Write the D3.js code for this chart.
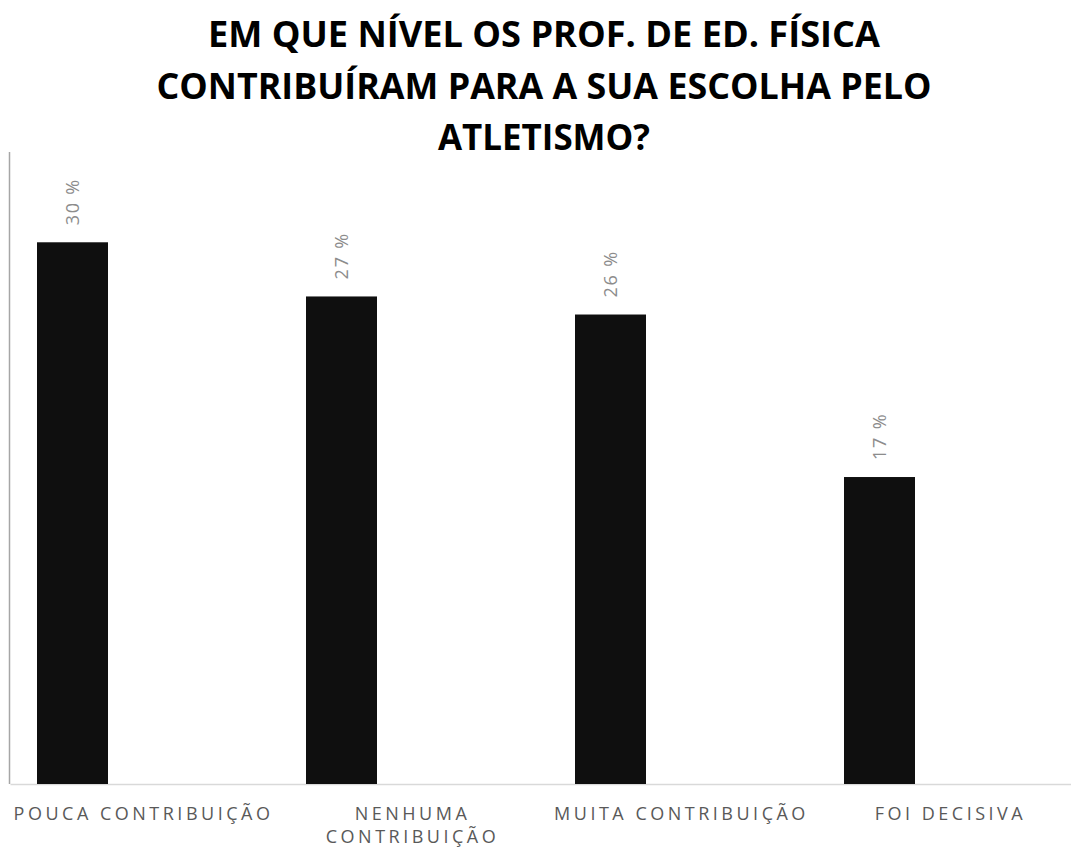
<!DOCTYPE html>
<html>
<head>
<meta charset="utf-8">
<script src="https://cdn.jsdelivr.net/npm/d3@7"></script>
<style>
  html, body { margin: 0; padding: 0; background: #fff; }
  svg { display: block; }
</style>
</head>
<body>
<div id="chart"></div>
<script>
// Chart content
const titleLines = [
  "EM QUE NÍVEL OS PROF. DE ED. FÍSICA",
  "CONTRIBUÍRAM PARA A SUA ESCOLHA PELO",
  "ATLETISMO?"
];
const categories = [
  "POUCA CONTRIBUIÇÃO",
  "NENHUMA CONTRIBUIÇÃO",
  "MUITA CONTRIBUIÇÃO",
  "FOI DECISIVA"
];
// Category labels split across lines where the text wraps
const categoryLines = [
  ["POUCA CONTRIBUIÇÃO"],
  ["NENHUMA", "CONTRIBUIÇÃO"],
  ["MUITA CONTRIBUIÇÃO"],
  ["FOI DECISIVA"]
];
const values = [30, 27, 26, 17];
const valueLabels = ["30 %", "27 %", "26 %", "17 %"];

const W = 1071, H = 847;
const plot = { left: 10, top: 152, bottom: 784, right: 10 + 269 * 4 };

const svg = d3.select("#chart").append("svg")
  .attr("width", W).attr("height", H);

// Title, each line fitted to its set width
const titleWidths = [672, 775, 212];
const title = svg.append("g");
titleLines.forEach((line, i) => {
  title.append("text")
    .attr("x", 544)
    .attr("y", 47 + i * 51.5)
    .attr("text-anchor", "middle")
    .attr("font-family", "'Open Sans', Lato, sans-serif")
    .attr("font-weight", 700)
    .attr("font-size", 35)
    .attr("fill", "#000")
    .attr("textLength", titleWidths[i])
    .attr("lengthAdjust", "spacingAndGlyphs")
    .text(line);
});

// Scales
const x = d3.scaleBand()
  .domain(categories)
  .range([plot.left, plot.right])
  .padding(0);

const y = d3.scaleLinear()
  .domain([0, 35])
  .range([plot.bottom, plot.top]);

// Axis lines
svg.append("line")
  .attr("x1", plot.left - 0.5).attr("x2", plot.left - 0.5)
  .attr("y1", plot.top).attr("y2", plot.bottom)
  .attr("stroke", "#a6a6a6").attr("stroke-width", 1.5);

const xAxis = d3.axisBottom(x).tickSize(0).tickFormat("");
svg.append("g")
  .attr("transform", `translate(0,${plot.bottom})`)
  .call(xAxis)
  .call(g => g.select(".domain").attr("stroke", "#d9d9d9").attr("stroke-width", 1.5));

// Bars
const barOffset = 27 / 269, barFrac = 71 / 269;
svg.append("g").selectAll("rect")
  .data(values)
  .join("rect")
  .attr("x", (d, i) => x(categories[i]) + x.bandwidth() * barOffset)
  .attr("width", x.bandwidth() * barFrac)
  .attr("y", d => y(d))
  .attr("height", d => y(0) - y(d))
  .attr("fill", "#0f0f0f");

// Value labels, rotated above each bar
svg.append("g").selectAll("text")
  .data(values)
  .join("text")
  .attr("transform", (d, i) => {
    const cx = x(categories[i]) + x.bandwidth() * (barOffset + barFrac / 2);
    return `translate(${cx + 6.5},${y(d) - 17}) rotate(-90)`;
  })
  .attr("font-family", "'Open Sans', sans-serif")
  .attr("font-size", 18)
  .attr("fill", "#8c8c8c")
  .attr("letter-spacing", 1.8)
  .text((d, i) => valueLabels[i]);

// Category labels
const catG = svg.append("g");
categoryLines.forEach((lines, i) => {
  const cx = x(categories[i]) + x.bandwidth() / 2;
  lines.forEach((ln, j) => {
    catG.append("text")
      .attr("x", cx - 1)
      .attr("y", 819.5 + j * 23.5)
      .attr("text-anchor", "middle")
      .attr("font-family", "'Open Sans', sans-serif")
      .attr("font-size", 18)
      .attr("letter-spacing", 3.5)
      .attr("fill", "#595959")
      .text(ln);
  });
});
</script>
</body>
</html>
